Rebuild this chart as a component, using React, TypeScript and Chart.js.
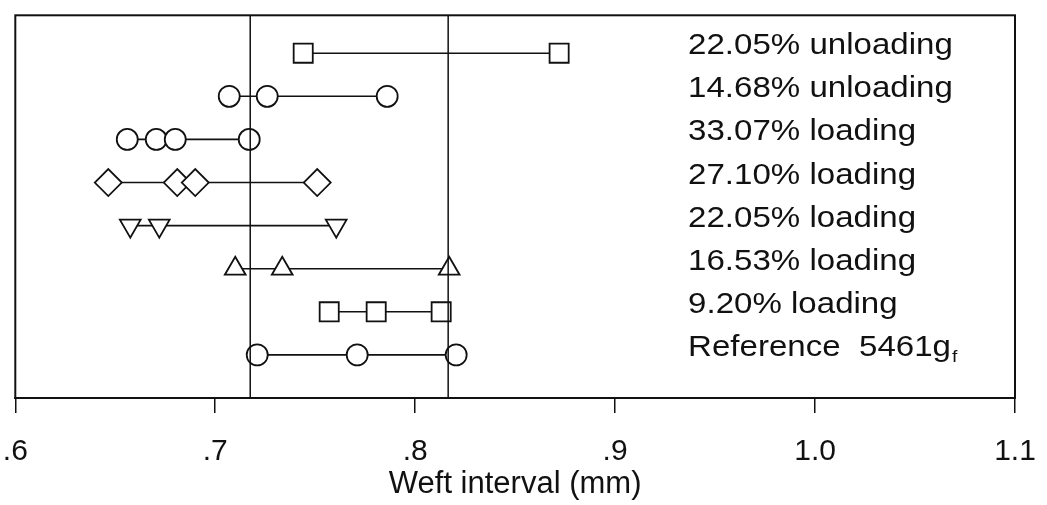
import React, { useEffect, useRef } from "react";
import { Chart, registerables } from "chart.js";

Chart.register(...registerables);

// ---- data ----
const rowLabels = [
  "Reference  5461g",
  "9.20% loading",
  "16.53% loading",
  "22.05% loading",
  "27.10% loading",
  "33.07% loading",
  "14.68% unloading",
  "22.05% unloading",
];
const rowSubscripts = ["f", "", "", "", "", "", "", ""];
const rowPositions = [1, 2, 3, 4, 5, 6, 7, 8];

const reference5461 = [0.721, 0.771, 0.8205];
const loading920 = [0.757, 0.7805, 0.813];
const loading1653 = [0.71, 0.7335, 0.817];
const loading2205 = [0.6575, 0.672, 0.7605];
const loading2710 = [0.6465, 0.681, 0.69, 0.751];
const loading3307 = [0.656, 0.6705, 0.68, 0.717];
const unloading1468 = [0.707, 0.726, 0.786];
const unloading2205 = [0.744, 0.872];

const guideLines = [0.7175, 0.8165];
const xTicks = [0.6, 0.7, 0.8, 0.9, 1.0, 1.1];
const xTickLabels = [".6", ".7", ".8", ".9", "1.0", "1.1"];
const xTitle = "Weft interval (mm)";
const labelX = 0.9365;
const yMin = 0;
const yMax = 8.88;

const seriesValues = [
  reference5461,
  loading920,
  loading1653,
  loading2205,
  loading2710,
  loading3307,
  unloading1468,
  unloading2205,
];
const seriesStyles = ["circle", "rect", "triangle", "triangle", "rectRot", "circle", "circle", "rect"];
const seriesRotation = [0, 0, 0, 180, 0, 0, 0, 0];

const FONT = "'Liberation Sans', Arial, Helvetica, sans-serif";

function radiusFor(style: string) {
  if (style === "rect") return 13.5;
  if (style === "rectRot") return 13.5;
  if (style === "triangle") return 12;
  return 10.5;
}

const framePlugin = {
  id: "frameAndLabels",
  afterDatasetsDraw(chart: any) {
    const { ctx, chartArea, scales } = chart;
    ctx.save();
    ctx.strokeStyle = "#111";
    ctx.lineWidth = 2;
    ctx.strokeRect(chartArea.left, chartArea.top, chartArea.right - chartArea.left, chartArea.bottom - chartArea.top);
    ctx.fillStyle = "#111";
    ctx.textBaseline = "middle";
    ctx.textAlign = "left";
    const x = scales.x.getPixelForValue(labelX);
    const sx = 1.14;
    rowLabels.forEach((t, i) => {
      const y = scales.y.getPixelForValue(rowPositions[i]) - 7;
      ctx.save();
      ctx.translate(x, y);
      ctx.scale(sx, 1);
      ctx.font = `29px ${FONT}`;
      ctx.fillText(t, 0, 0);
      if (rowSubscripts[i]) {
        const w = ctx.measureText(t).width;
        ctx.font = `17px ${FONT}`;
        ctx.fillText(rowSubscripts[i], w + 1, 9);
      }
      ctx.restore();
    });
    ctx.restore();
  },
};

export default function App() {
  const ref = useRef<HTMLCanvasElement | null>(null);

  useEffect(() => {
    if (!ref.current) return;
    const datasets: any[] = [];
    guideLines.forEach((g) => {
      datasets.push({
        data: [
          { x: g, y: yMin },
          { x: g, y: yMax },
        ],
        showLine: true,
        borderColor: "#111",
        borderWidth: 1.5,
        pointRadius: 0,
        order: 0,
      });
    });
    seriesValues.forEach((vals, i) => {
      datasets.push({
        data: vals.map((v) => ({ x: v, y: rowPositions[i] })),
        showLine: true,
        borderColor: "#111",
        borderWidth: 1.6,
        pointStyle: seriesStyles[i],
        rotation: seriesRotation[i],
        pointRadius: radiusFor(seriesStyles[i]),
        pointBackgroundColor: "#fff",
        pointBorderColor: "#111",
        pointBorderWidth: 1.8,
        order: 1,
      });
    });

    const chart = new Chart(ref.current, {
      type: "scatter",
      data: { datasets },
      options: {
        animation: false,
        responsive: false,
        devicePixelRatio: 1,
        layout: { padding: { left: 0, right: 32, top: 3, bottom: 0 } },
        plugins: { legend: { display: false }, tooltip: { enabled: false } },
        scales: {
          x: {
            type: "linear",
            min: 0.6,
            max: 1.1,
            afterBuildTicks: (s: any) => {
              s.ticks = xTicks.map((v) => ({ value: v }));
            },
            afterFit: (s: any) => {
              s.paddingLeft = 0;
              s.paddingRight = 0;
              s.height = 107;
            },
            ticks: {
              color: "#111",
              font: { family: FONT, size: 30, lineHeight: 1 },
              padding: 24,
              maxRotation: 0,
              autoSkip: false,
              callback: (v: any) => {
                const i = xTicks.findIndex((t) => Math.abs(t - Number(v)) < 1e-6);
                return i >= 0 ? xTickLabels[i] : "";
              },
            },
            grid: {
              display: true,
              drawOnChartArea: false,
              drawTicks: true,
              tickLength: 15,
              color: "#111",
              lineWidth: 1.5,
            },
            border: { display: true, color: "#111", width: 2 },
            title: {
              display: true,
              text: xTitle,
              color: "#111",
              font: { family: FONT, size: 31 },
              padding: { top: 0, bottom: 1.5 },
            },
          },
          y: {
            type: "linear",
            min: yMin,
            max: yMax,
            afterFit: (s: any) => {
              s.width = 15;
              s.paddingTop = 0;
              s.paddingBottom = 0;
            },
            ticks: { display: false },
            grid: { display: false },
            border: { display: false },
          },
        },
      },
      plugins: [framePlugin],
    });
    return () => chart.destroy();
  }, []);

  return (
    <div style={{ position: "fixed", left: 0, top: 0, width: 1047, height: 505, background: "#fff" }}>
      <canvas ref={ref} width={1047} height={505} style={{ display: "block" }} />
    </div>
  );
}
